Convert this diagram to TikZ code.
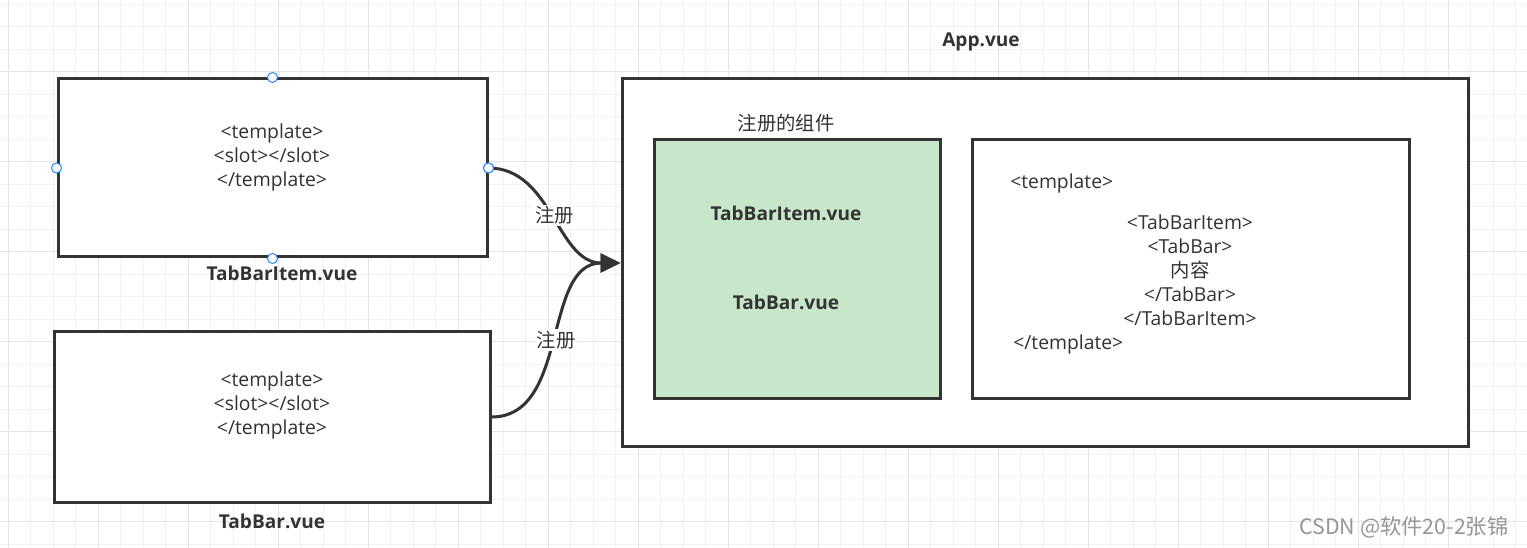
\documentclass[tikz,border=0pt]{standalone}
\usepackage{fontspec}
\setmainfont{Open Sans}
\newfontfamily\cjk{Noto Sans CJK SC}
\usetikzlibrary{positioning,arrows.meta}
\definecolor{linegray}{RGB}{51,51,51}
\definecolor{gridminor}{RGB}{242,242,242}
\definecolor{gridmajor}{RGB}{228,228,228}
\definecolor{compgreen}{RGB}{200,230,201}
\definecolor{handleblue}{RGB}{41,137,255}
\definecolor{markgray}{RGB}{150,150,150}
\tikzset{
  filebox/.style={draw=linegray, fill=white, line width=2.25pt, inner sep=0pt},
  greenbox/.style={draw=linegray, fill=compgreen, line width=2.25pt, inner sep=0pt},
  handle/.style={circle, draw=handleblue, fill=white, line width=0.75pt,
                 minimum size=7.5pt, inner sep=0pt},
  codetext/.style={font=\fontsize{14.5}{18}\selectfont, text=linegray, align=center, inner sep=0pt},
  cjktext/.style={font=\cjk\fontsize{14.5}{18}\selectfont, text=linegray, inner sep=0pt},
  namelabel/.style={font=\fontsize{14.3}{18}\selectfont\bfseries, text=linegray, inner sep=0pt},
  reglabel/.style={fill=white, font=\cjk\fontsize{14.5}{16}\selectfont, text=linegray,
                   inner sep=1.5pt},
  arr/.style={-{Triangle[length=15pt,width=14pt]}, line width=2.25pt, draw=linegray}
}

\begin{document}
\begin{tikzpicture}[x=0.75pt, y=-0.75pt]
  \useasboundingbox (0,0) rectangle (1527,548);
  \fill[white] (0,0) rectangle (1527,548);

  % Background grid
  \foreach \x in {8,30.5,...,1527} \draw[gridminor, line width=0.75pt] (\x,0) -- (\x,548);
  \foreach \y in {4.2,26.7,...,548} \draw[gridminor, line width=0.75pt] (0,\y) -- (1527,\y);
  \foreach \x in {8,98,...,1527} \draw[gridmajor, line width=0.75pt] (\x,0) -- (\x,548);
  \foreach \y in {71.7,161.7,...,548} \draw[gridmajor, line width=0.75pt] (0,\y) -- (1527,\y);

  % Component files
  \node[filebox, minimum width=321.75pt, minimum height=133.5pt] (itembox) at (272.5,168) {};
  \node[codetext] (itemcode) at (272,157) {<template>\\<slot></slot>\\</template>};
  \node[namelabel] (itemname) at (282,273) {TabBarItem.vue};
  \node[filebox, minimum width=327pt, minimum height=127.5pt] (barbox) at (272,417) {};
  \node[codetext] (barcode) at (272,405) {<template>\\<slot></slot>\\</template>};
  \node[namelabel] (barname) at (272,521) {TabBar.vue};

  % Selection handles
  \foreach \a in {north,west,east,south}
    \node[handle] (h-\a) at (itembox.\a) {};

  % App.vue
  \node[namelabel] (appname) at (981,42) {App.vue};
  \node[filebox, minimum width=634.5pt, minimum height=276pt] (appbox) at (1045,263) {};
  \node[greenbox, minimum width=214.5pt, minimum height=194.25pt] (regbox) at (797,269.5) {};
  \node[cjktext] (regtitle) at (786,123) {注册的组件};
  \node[namelabel] (regitem) at (786,213) {TabBarItem.vue};
  \node[namelabel] (regbar) at (786,302) {TabBar.vue};
  \node[filebox, minimum width=327.75pt, minimum height=194.25pt] (usebox) at (1190.5,269.5) {};
  \node[codetext, anchor=west] (tplopen) at (1010,183) {<template>};
  \node[codetext] (usecode) at (1190,270)
        {<TabBarItem>\\<TabBar>\\{\cjk 内容}\\</TabBar>\\</TabBarItem>};
  \node[codetext, anchor=west] (tplclose) at (1013,344) {</template>};

  % Registration arrows
  \draw[arr] (itembox.east) to[out=0, in=180]
        node[reglabel] (reg1) {注册} (appbox.west);
  \draw[arr] (barbox.east) to[out=0, in=180]
        node[reglabel] (reg2) {注册} (appbox.west);
  \node[handle] at (itembox.east) {};

  % Watermark
  \node[font=\cjk\fontsize{16}{18}\selectfont, text=markgray, inner sep=0pt] (mark) at (1404,527)
        {CSDN @软件20-2张锦};
\end{tikzpicture}
\end{document}
